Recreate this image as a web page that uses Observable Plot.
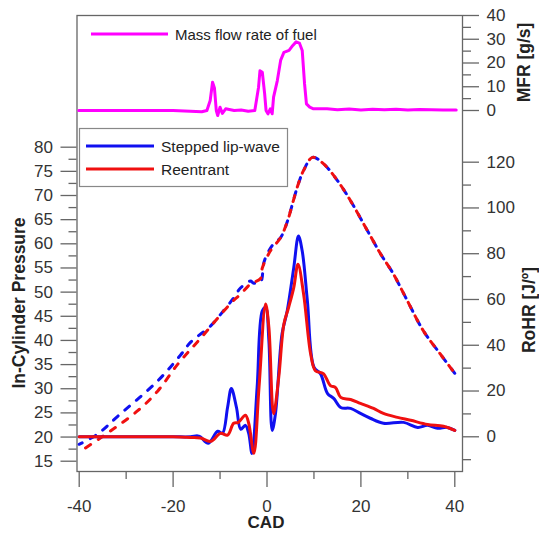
<!DOCTYPE html>
<html><head><meta charset="utf-8">
<script src="https://cdn.jsdelivr.net/npm/d3@7"></script>
<script src="https://cdn.jsdelivr.net/npm/@observablehq/plot@0.6"></script>
<style>
body{margin:0;background:#fff;}
#chart{position:relative;width:539px;height:533px;overflow:hidden;}
#chart svg{position:absolute;left:0;top:0;}
</style></head><body><div id="chart"></div>
<script>
// ---------------- DATA ----------------
const xTicksMajor = [-40, -20, 0, 20, 40];
const xTicksMinor = [-30, -10, 10, 30];
const pTicksMajor = [15, 20, 25, 30, 35, 40, 45, 50, 55, 60, 65, 70, 75, 80];
const pTicksMinor = [17.5, 22.5, 27.5, 32.5, 37.5, 42.5, 47.5, 52.5, 57.5, 62.5, 67.5, 72.5, 77.5];
const rTicksMajor = [0, 20, 40, 60, 80, 100, 120];
const rTicksMinor = [-10, 10, 30, 50, 70, 90, 110];
const mTicksMajor = [0, 10, 20, 30, 40];
const mTicksMinor = [5, 15, 25, 35];

const seriesNames = ["Stepped lip-wave", "Reentrant"];

// In-cylinder pressure (dashed)
const pCadBlue = [-40, -36.1, -31.8, -23.3, -18.4, -16.3, -12.0, -9.3, -7.1, -5.6, -3.5, -2.9, -1.4, -0.7, 0.1, 1.4, 2.9, 4.4, 5.6, 6.7, 7.8, 9.7, 12.0, 15.0, 17.8, 21.4, 24.2, 26.9, 29.9, 33.3, 36.9, 40];
const pBlue    = [18.5, 20.6, 24.3, 31.6, 37.0, 39.6, 43.0, 46.1, 48.8, 50.9, 52.3, 51.9, 52.0, 56.0, 58.0, 60.0, 61.3, 64.8, 68.9, 72.5, 75.2, 77.9, 76.6, 73.1, 68.9, 62.7, 57.9, 53.8, 48.2, 42.0, 37.2, 33.2];
const pCadRed  = [-40, -35.5, -27.6, -23.3, -19.0, -14.1, -7.8, -5.6, -3.5, -1.4, -1.0, 0.7, 2.9, 4.4, 5.6, 6.7, 7.8, 9.7, 12.0, 15.0, 17.8, 21.4, 24.2, 26.9, 29.9, 33.3, 36.9, 40];
const pRed     = [16.9, 19.8, 25.4, 29.5, 35.1, 40.5, 47.6, 49.6, 51.7, 52.8, 55.0, 58.5, 61.3, 64.8, 68.9, 72.5, 75.2, 77.9, 76.6, 73.1, 68.9, 62.7, 57.9, 53.8, 48.2, 42.0, 37.2, 33.2];

// Rate of heat release (solid)
const rCadBlue = [-40, -30, -20, -16.3, -14.8, -14.2, -12.5, -10.5, -9.5, -8.4, -7.6, -6.5, -5.6, -4.6, -3.9, -3.2, -2.1, -1.0, -0.3, 0.4, 1.1, 1.8, 3.2, 4.3, 5.7, 6.7, 7.5, 8.6, 10.0, 11.4, 12.9, 14.2, 15.7, 17.8, 19.9, 22.0, 24.8, 29.1, 32.1, 34.2, 36.3, 38.4, 40];
const rBlue    = [0, 0, 0, 0, 0.4, 0, -2.8, 2.4, 1.5, 12.8, 21.1, 12.8, 3.3, 5.0, 1.5, -7.3, 21.7, 55.0, 56.5, 42.0, 2.8, 10.1, 44.9, 55.0, 73.9, 87.7, 81.2, 59.4, 30.4, 27.5, 18.9, 16.8, 12.8, 12.4, 10.2, 8.1, 5.9, 6.3, 4.1, 5.0, 3.7, 4.1, 2.8];
const rCadRed  = [-40, -30, -20, -16.3, -14.2, -12.0, -9.9, -8.4, -7.1, -6.1, -4.6, -3.9, -2.8, -1.7, -0.3, 0.4, 1.4, 2.5, 3.6, 4.6, 5.7, 6.6, 7.8, 9.3, 10.3, 12.0, 13.5, 14.6, 15.7, 17.8, 19.9, 22.7, 24.8, 27.8, 30.6, 34.2, 37.6, 40];
const rRed     = [0, 0, 0, -0.3, -0.5, -2.0, 1.5, 0.7, 5.9, 6.3, 9.4, 5.9, -7.2, 21.7, 58.0, 47.8, 10.1, 26.0, 49.3, 56.5, 65.2, 75.4, 62.3, 36.2, 28.9, 27.6, 22.4, 21.5, 17.2, 16.3, 14.6, 12.4, 10.2, 8.5, 7.2, 5.4, 4.6, 2.8];

// Mass flow rate of fuel
const mCad = [-40.1, -30, -20, -13.9, -12.8, -12.1, -11.6, -11.2, -10.8, -10.5, -10.0, -9.5, -8.8, -7.0, -5.5, -4.0, -2.6, -1.8, -1.5, -1.0, -0.5, -0.2, 0.2, 0.7, 1.1, 1.4, 2.2, 2.9, 3.6, 4.7, 5.5, 6.2, 6.9, 7.5, 8.0, 8.4, 9.1, 9.9, 12.8, 15, 17.5, 20, 22.5, 25, 27.5, 30, 32.5, 35, 37.5, 40.3];
const mMfr = [0, 0, 0, -0.5, 0, 4.2, 11.9, 9.5, 0, -2.1, 1.4, -1.2, 0.7, 0, 0.2, -0.3, 0, 9.8, 16.7, 16.1, 7.0, 0, -1.4, 0.7, -1.4, 5.6, 12.6, 21.1, 24.5, 25.3, 27.4, 28.9, 28.4, 25.3, 11.2, 2.8, 1.4, 0.7, 0.7, 0.3, 0.6, 0.2, 0.5, 0.3, 0.5, 0.2, 0.4, 0.3, 0.2, 0.2];

// ---------------- BUILD ----------------
const zip = (xs, ys) => xs.map((x, i) => ({x, y: ys[i]}));
const BLUE = "#1010f0", RED = "#f01010", MAG = "#ff00ff";
const FONT = "Liberation Sans, Arial, sans-serif";
const xDomain = [-40.47, 41.64];
const hyphen = d => (d < 0 ? "-" + Math.abs(d) : String(d));
const base = {
  width: 539, height: 533,
  marginLeft: 76.5, marginRight: 77, marginTop: 15, marginBottom: 62,
  style: {fontSize: "17px", fontFamily: FONT, background: "transparent", color: "#333"}
};
const tickStyle = {stroke: "#666", fill: "#333", strokeWidth: 1.3, label: null};

const chart = document.getElementById("chart");

// Pressure layer (dashed lines drawn from the right end so their dashes interleave where they coincide)
const p1 = Plot.plot({
  ...base,
  x: {domain: xDomain},
  y: {domain: [12.87, 107.26]},
  marks: [
    Plot.frame({stroke: "#666", strokeWidth: 1.3}),
    Plot.axisX({...tickStyle, ticks: xTicksMajor, tickSize: 16, tickPadding: 12, tickFormat: hyphen}),
    Plot.axisX({...tickStyle, ticks: xTicksMinor, tickSize: 8, tickFormat: () => ""}),
    Plot.axisY({...tickStyle, anchor: "left", ticks: pTicksMajor, tickSize: 16, tickPadding: 8}),
    Plot.axisY({...tickStyle, anchor: "left", ticks: pTicksMinor, tickSize: 8, tickFormat: () => ""}),
    Plot.line(zip(pCadBlue, pBlue).reverse(), {x: "x", y: "y", stroke: BLUE, strokeWidth: 3, strokeDasharray: "6,9", curve: "catmull-rom"}),
    Plot.line(zip(pCadRed, pRed).reverse(), {x: "x", y: "y", stroke: RED, strokeWidth: 3, strokeDasharray: "6,9", strokeDashoffset: -4, curve: "catmull-rom"})
  ]
});
chart.appendChild(p1);

// RoHR layer
const p2 = Plot.plot({
  ...base,
  x: {domain: xDomain, axis: null},
  y: {domain: [-15.17, 184.1]},
  marks: [
    Plot.axisY({...tickStyle, anchor: "right", ticks: rTicksMajor, tickSize: 16, tickPadding: 8}),
    Plot.axisY({...tickStyle, anchor: "right", ticks: rTicksMinor, tickSize: 8, tickFormat: () => ""}),
    Plot.line(zip(rCadBlue, rBlue), {x: "x", y: "y", stroke: BLUE, strokeWidth: 3, curve: "catmull-rom"}),
    Plot.line(zip(rCadRed, rRed), {x: "x", y: "y", stroke: RED, strokeWidth: 3, curve: "catmull-rom"})
  ]
});
chart.appendChild(p2);

// MFR layer
const p3 = Plot.plot({
  ...base,
  x: {domain: xDomain, axis: null},
  y: {domain: [-152, 40]},
  marks: [
    Plot.axisY({...tickStyle, anchor: "right", ticks: mTicksMajor, tickSize: 16, tickPadding: 8}),
    Plot.axisY({...tickStyle, anchor: "right", ticks: mTicksMinor, tickSize: 8, tickFormat: () => ""}),
    Plot.line(zip(mCad, mMfr), {x: "x", y: "y", stroke: MAG, strokeWidth: 3})
  ]
});
chart.appendChild(p3);

// Legends and axis titles
const svg = d3.select(chart).append("svg")
  .attr("width", 539).attr("height", 533)
  .style("font-family", FONT).style("fill", "#222");

svg.append("line").attr("x1", 91).attr("x2", 168).attr("y1", 34).attr("y2", 34)
  .attr("stroke", MAG).attr("stroke-width", 3);
svg.append("text").attr("x", 175).attr("y", 39.5).attr("font-size", 15).text("Mass flow rate of fuel");

svg.append("rect").attr("x", 79.5).attr("y", 128.5).attr("width", 208).attr("height", 58)
  .attr("fill", "white").attr("stroke", "#888").attr("stroke-width", 1.2);
[[seriesNames[0], BLUE, 146], [seriesNames[1], RED, 169]].forEach(([name, c, y]) => {
  svg.append("line").attr("x1", 86).attr("x2", 154).attr("y1", y).attr("y2", y)
    .attr("stroke", c).attr("stroke-width", 3);
  svg.append("text").attr("x", 161).attr("y", y + 5.5).attr("font-size", 15.5).text(name);
});

const title = (txt, x, y, rot, fs) => svg.append("text")
  .attr("transform", `translate(${x},${y}) rotate(${rot})`)
  .attr("text-anchor", "middle").attr("font-weight", "bold").attr("font-size", fs).text(txt);
title("In-Cylinder Pressure", 25, 303, -90, 17.5);
title("RoHR [J/º]", 535, 310, -90, 17.5);
title("MFR [g/s]", 530, 62.5, -90, 17.5);
title("CAD", 266, 528, 0, 17);
</script></body></html>
